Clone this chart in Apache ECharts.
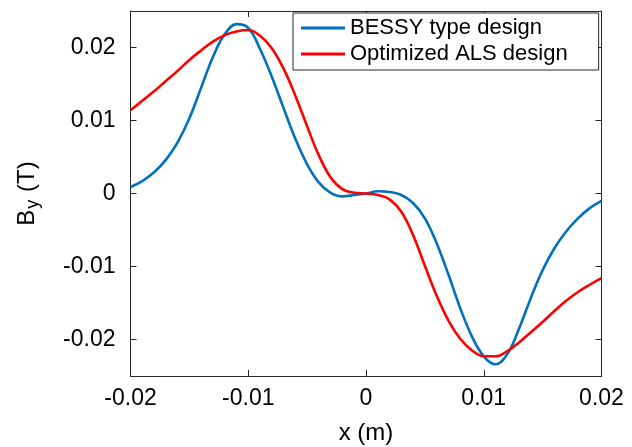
<!DOCTYPE html>
<html>
<head>
<meta charset="utf-8">
<script src="https://cdn.jsdelivr.net/npm/echarts@6/dist/echarts.min.js"></script>
<style>html,body{margin:0;padding:0;background:#fff;}#chart{width:632px;height:447px;}</style>
</head>
<body>
<div id="chart"></div>
<script>
const xPositions = [-0.020,-0.019,-0.018,-0.017,-0.016,-0.015,-0.014,-0.013,-0.012,-0.011,-0.010,-0.009,-0.008,-0.007,-0.006,-0.005,-0.004,-0.003,-0.002,-0.001,0.000,0.001,0.002,0.003,0.004,0.005,0.006,0.007,0.008,0.009,0.010,0.011,0.012,0.013,0.014,0.015,0.016,0.017,0.018,0.019,0.020];
const bessyValues = [0.0009,0.0017,0.0029,0.0046,0.0070,0.0103,0.0145,0.0187,0.0218,0.0232,0.0227,0.0198,0.0160,0.0117,0.0075,0.0040,0.0015,0.0001,-0.0004,-0.0002,0.0000,0.0003,0.0002,-0.0002,-0.0013,-0.0034,-0.0068,-0.0111,-0.0157,-0.0196,-0.0223,-0.0234,-0.0220,-0.0185,-0.0143,-0.0105,-0.0075,-0.0052,-0.0034,-0.0020,-0.0010];
const alsValues = [0.0114,0.0127,0.0140,0.0154,0.0168,0.0183,0.0196,0.0208,0.0217,0.0222,0.0224,0.0216,0.0199,0.0171,0.0134,0.0092,0.0052,0.0022,0.0006,0.0001,0.0000,-0.0002,-0.0008,-0.0025,-0.0057,-0.0099,-0.0140,-0.0174,-0.0199,-0.0215,-0.0223,-0.0223,-0.0216,-0.0204,-0.0190,-0.0176,-0.0161,-0.0147,-0.0135,-0.0125,-0.0116];
const seriesNames = ['BESSY type design', 'Optimized ALS design'];
const xTickValues = [-0.02, -0.01, 0, 0.01, 0.02];
const yTickValues = [-0.02, -0.01, 0, 0.01, 0.02];

const pairs = (vals) => xPositions.map((x, i) => [x, vals[i]]);
const FONT = '"Liberation Sans", Arial, Helvetica, sans-serif';
const AX = '#262626';

const chart = echarts.init(document.getElementById('chart'), null, {renderer: 'canvas'});
const fmt = v => {
  const r = Math.round(v * 1000) / 1000;
  return r === 0 ? '0' : String(r);
};
chart.setOption({
  animation: false,
  backgroundColor: '#ffffff',
  grid: {left: 130.5, right: 30.5, top: 11, bottom: 71, containLabel: false, outerBoundsMode: 'none'},
  legend: {
    orient: 'vertical',
    left: 293, top: 13,
    data: seriesNames.map(n => ({name: n, icon: 'rect'})),
    itemWidth: 44, itemHeight: 3, itemGap: 4,
    padding: [4, 31, 5, 8],
    borderColor: AX, borderWidth: 1, backgroundColor: '#fff',
    textStyle: {fontFamily: FONT, fontSize: 22, color: '#000', lineHeight: 22},
    selectedMode: false
  },
  xAxis: [{
    type: 'value', min: -0.02, max: 0.02, interval: 0.01,
    position: 'bottom',
    name: 'x (m)', nameLocation: 'middle', nameGap: 45,
    nameTextStyle: {fontFamily: FONT, fontSize: 24, color: '#000'},
    axisLine: {show: true, onZero: false, lineStyle: {color: AX, width: 1}},
    axisTick: {show: true, inside: true, length: 6, lineStyle: {color: AX, width: 1}},
    axisLabel: {fontFamily: FONT, fontSize: 23, color: '#000', margin: 11,
      formatter: v => xTickValues.some(t => Math.abs(t - v) < 1e-9) ? fmt(v) : ''},
    splitLine: {show: false}
  }, {
    type: 'value', min: -0.02, max: 0.02, interval: 0.01,
    position: 'top',
    axisLine: {show: true, onZero: false, lineStyle: {color: AX, width: 1}},
    axisTick: {show: true, inside: true, length: 6, lineStyle: {color: AX, width: 1}},
    axisLabel: {show: false},
    splitLine: {show: false}
  }],
  yAxis: [{
    type: 'value', min: -0.025, max: 0.025, splitNumber: 5,
    position: 'left',
    name: '{b|B}{s|y}{b| (T)}', nameLocation: 'middle', nameGap: 88, nameRotate: 90,
    nameTextStyle: {fontFamily: FONT, fontSize: 24, color: '#000',
      rich: {
        b: {fontFamily: FONT, fontSize: 24, color: '#000', lineHeight: 30, verticalAlign: 'middle'},
        s: {fontFamily: FONT, fontSize: 18, color: '#000', lineHeight: 30, verticalAlign: 'bottom', padding: [14, 1, 0, 1]}
      }},
    axisLine: {show: true, onZero: false, lineStyle: {color: AX, width: 1}},
    axisTick: {show: true, inside: true, length: 6, lineStyle: {color: AX, width: 1}},
    axisLabel: {fontFamily: FONT, fontSize: 23, color: '#000', margin: 15, padding: [5, 0, 0, 0],
      showMinLabel: false, showMaxLabel: false,
      formatter: v => yTickValues.some(t => Math.abs(t - v) < 1e-9) ? fmt(v) : ''},
    splitLine: {show: false}
  }, {
    type: 'value', min: -0.025, max: 0.025, splitNumber: 5,
    position: 'right',
    axisLine: {show: true, onZero: false, lineStyle: {color: AX, width: 1}},
    axisTick: {show: true, inside: true, length: 6, lineStyle: {color: AX, width: 1}},
    axisLabel: {show: false},
    splitLine: {show: false}
  }],
  series: [{
    name: seriesNames[0], type: 'line', data: pairs(bessyValues),
    xAxisIndex: 0, yAxisIndex: 0,
    symbol: 'none', smooth: 0.4,
    lineStyle: {color: '#0072BD', width: 2.6},
    itemStyle: {color: '#0072BD'}
  }, {
    name: seriesNames[1], type: 'line', data: pairs(alsValues),
    xAxisIndex: 0, yAxisIndex: 0,
    symbol: 'none', smooth: 0.4,
    lineStyle: {color: '#FF0000', width: 2.6},
    itemStyle: {color: '#FF0000'}
  }]
});
</script>
</body>
</html>
